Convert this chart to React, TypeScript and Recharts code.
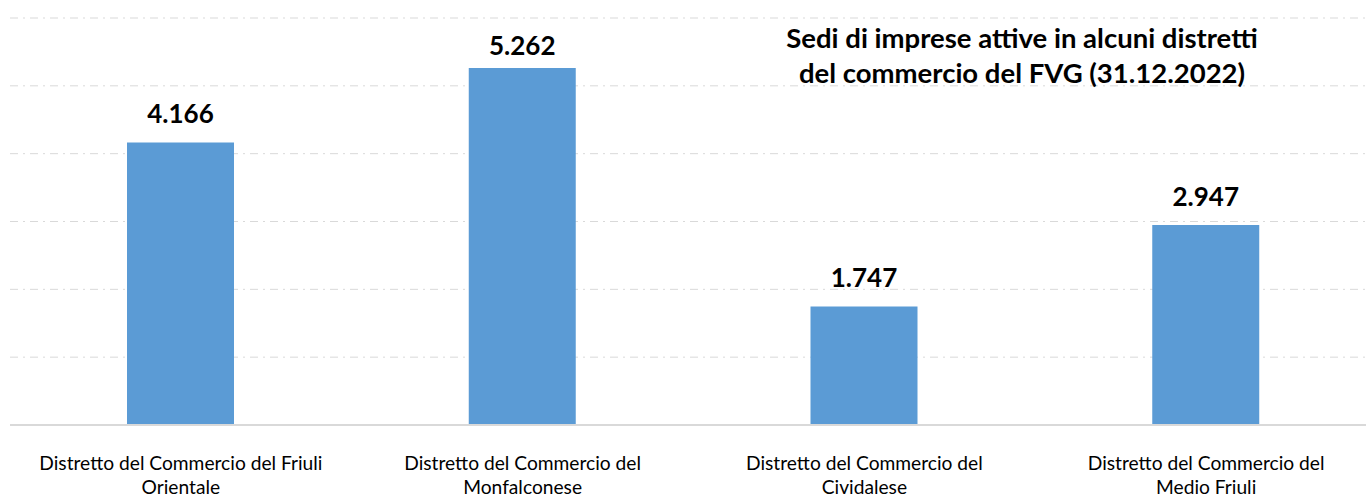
import React from 'react';
import { BarChart, Bar, XAxis, YAxis, CartesianGrid, LabelList } from 'recharts';

const categories = [
  'Distretto del Commercio del Friuli Orientale',
  'Distretto del Commercio del Monfalconese',
  'Distretto del Commercio del Cividalese',
  'Distretto del Commercio del Medio Friuli',
];
const tickLines = [
  ['Distretto del Commercio del Friuli', 'Orientale'],
  ['Distretto del Commercio del', 'Monfalconese'],
  ['Distretto del Commercio del', 'Cividalese'],
  ['Distretto del Commercio del', 'Medio Friuli'],
];
const values = [4166, 5262, 1747, 2947];
const yTicks = [0, 1000, 2000, 3000, 4000, 5000, 6000];
const titleLines = ['Sedi di imprese attive in alcuni distretti', 'del commercio del FVG (31.12.2022)'];

const data = categories.map((name, i) => ({ name, value: values[i] }));

const fmt = (v: number) => v.toLocaleString('it-IT');

const CategoryTick = (props: any) => {
  const { x, y, index } = props;
  const lines = tickLines[index] || [];
  return (
    <g transform={`translate(${x},${y})`}>
      {lines.map((line, i) => (
        <text key={i} x={0} y={0} dy={37 + i * 24} textAnchor="middle" fill="#000" fontSize={19.2} fontFamily="Lato, sans-serif">
          {line}
        </text>
      ))}
    </g>
  );
};

const ValueLabel = (props: any) => {
  const { x, y, width, value } = props;
  // keep the tallest label a bit closer to the bar, like the original
  const baseline = Math.max(y - 19, 55);
  return (
    <text x={x + width / 2} y={baseline} textAnchor="middle" fill="#000" fontSize={26} fontWeight={700} fontFamily="Lato, sans-serif">
      {fmt(value)}
    </text>
  );
};

export default function App() {
  return (
    <div style={{ position: 'absolute', left: 0, top: 0, width: 1366, height: 497, overflow: 'hidden', background: '#fff' }}>
      <BarChart width={1380} height={497} data={data} margin={{ top: 18, right: 3, bottom: 0, left: 10 }}>
        <CartesianGrid vertical={false} stroke="#d9d9d9" strokeDasharray="8 5 2 5" />
        <YAxis hide domain={[0, 6000]} ticks={yTicks} />
        <XAxis
          dataKey="name"
          height={72}
          axisLine={{ stroke: '#d9d9d9', strokeWidth: 2 }}
          tickLine={false}
          tick={<CategoryTick />}
          interval={0}
        />
        <Bar dataKey="value" fill="#5b9bd5" barSize={107} isAnimationActive={false}>
          <LabelList dataKey="value" content={<ValueLabel />} />
        </Bar>
      </BarChart>
      <div
        style={{
          position: 'absolute',
          left: 1022 - 300,
          width: 600,
          top: 20,
          textAlign: 'center',
          fontFamily: 'Lato, sans-serif',
          fontWeight: 700,
          fontSize: 27.5,
          lineHeight: '35px',
          color: '#000',
        }}
      >
        {titleLines.map((l) => (
          <div key={l}>{l}</div>
        ))}
      </div>
    </div>
  );
}
